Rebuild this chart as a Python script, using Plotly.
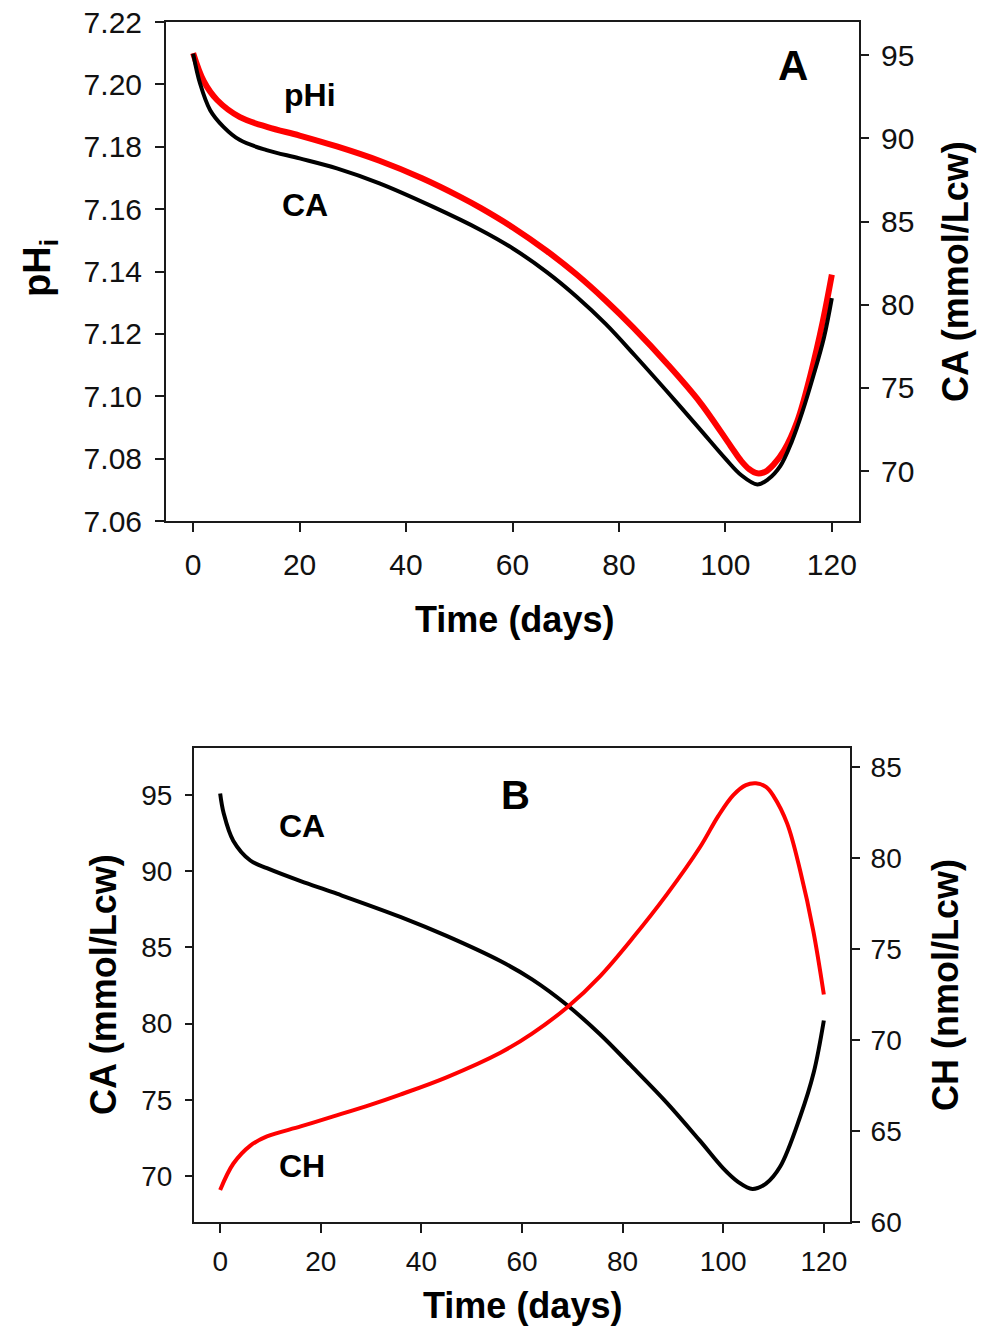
import plotly.graph_objects as go

# ---------------- Data ----------------
# Panel A: intracellular pH (left axis) and CA (right axis)
tA_phi = [0, 2, 4.5, 8.8, 14, 20, 27, 35, 43, 50, 54, 60, 66.5, 72, 77.5, 82.7,
          89, 95.3, 101, 103, 104.5, 106, 107.5, 109, 111, 113.5, 116, 118.3, 120]
phi_A = [7.210, 7.201, 7.195, 7.1895, 7.1863, 7.1836, 7.1801, 7.1755, 7.1699,
         7.1641, 7.1604, 7.1542, 7.1465, 7.1391, 7.1307, 7.1220, 7.1105, 7.0979,
         7.0840, 7.0792, 7.0766, 7.0753, 7.0758, 7.0780, 7.0826, 7.092, 7.107,
         7.124, 7.139]

tA_ca = [0, 1.3, 3.2, 5.7, 8.8, 13.8, 20, 27, 35, 45, 54, 60, 66.5, 72, 77.5,
         83, 89, 95, 100, 103, 106, 108, 110.3, 112.5, 114.5, 116.5, 118.5, 120]
ca_A = [95.1, 93.3, 91.7, 90.7, 89.9, 89.3, 88.8, 88.2, 87.3, 85.9, 84.5, 83.4,
        81.95, 80.5, 78.85, 76.95, 74.8, 72.6, 70.75, 69.75, 69.2, 69.5, 70.3,
        71.8, 73.6, 75.7, 78.0, 80.4]

# Panel B: CA (left axis) and CH (right axis)
tB_ca = [0, 0.7, 2.6, 6, 9.3, 16, 22.5, 35.8, 45, 55.7, 62, 69, 75.5, 81.5,
         88.8, 95.4, 100, 103, 105.8, 108.5, 111.3, 115.3, 118, 120]
ca_B = [95.1, 93.8, 92.0, 90.7, 90.2, 89.35, 88.6, 87.0, 85.75, 84.1, 82.9,
        81.2, 79.3, 77.3, 74.8, 72.3, 70.5, 69.6, 69.15, 69.5, 70.6, 73.9, 76.8,
        80.2]

tB_ch = [0, 2.6, 6, 9.3, 16, 22.5, 30, 35.8, 45, 55.7, 62, 69, 75.5, 82, 88.8,
         95.4, 99, 102, 104.5, 106.5, 108.5, 110, 112.7, 115.3, 117.9, 120]
ch_B = [61.76, 63.2, 64.2, 64.7, 65.25, 65.8, 66.45, 67.0, 67.95, 69.3, 70.35,
        71.8, 73.5, 75.6, 78.0, 80.6, 82.3, 83.45, 84.0, 84.1, 83.9, 83.4, 81.9,
        79.3, 76.0, 72.5]

x_ticks = [0, 20, 40, 60, 80, 100, 120]
phi_ticks = [7.06, 7.08, 7.10, 7.12, 7.14, 7.16, 7.18, 7.20, 7.22]
caA_ticks = [70, 75, 80, 85, 90, 95]
caB_ticks = [70, 75, 80, 85, 90, 95]
chB_ticks = [60, 65, 70, 75, 80, 85]

# ---------------- Layout helpers ----------------
W, H = 987, 1329
FONT = "Liberation Sans, Arial, Helvetica, sans-serif"
AXC = "#1a1a1a"


def px(xp):
    return xp / W


def py(yp):
    return 1 - yp / H


fig = go.Figure()

RED = "#ff0000"
BLACK = "#000000"

fig.add_trace(go.Scatter(x=tA_phi, y=phi_A, mode="lines", name="pHi",
                         line=dict(color=RED, width=6, shape="spline", smoothing=1),
                         xaxis="x", yaxis="y"))
fig.add_trace(go.Scatter(x=tA_ca, y=ca_A, mode="lines", name="CA",
                         line=dict(color=BLACK, width=4, shape="spline", smoothing=1),
                         xaxis="x", yaxis="y2"))
fig.add_trace(go.Scatter(x=tB_ca, y=ca_B, mode="lines", name="CA",
                         line=dict(color=BLACK, width=4, shape="spline", smoothing=1),
                         xaxis="x2", yaxis="y3"))
fig.add_trace(go.Scatter(x=tB_ch, y=ch_B, mode="lines", name="CH",
                         line=dict(color=RED, width=4, shape="spline", smoothing=1),
                         xaxis="x2", yaxis="y4"))

common = dict(showline=True, linecolor=AXC, linewidth=2, ticks="outside",
              tickcolor=AXC, tickwidth=2, showgrid=False, zeroline=False,
              automargin=False)

tickA = dict(family=FONT, size=30, color="#111111")
tickB = dict(family=FONT, size=28, color="#111111")

fig.update_layout(
    width=W, height=H, margin=dict(l=0, r=0, t=0, b=0, pad=0),
    paper_bgcolor="white", plot_bgcolor="white", showlegend=False,
    xaxis=dict(domain=[px(166), px(859)], range=[-5.1, 125.1], anchor="y",
               tickvals=x_ticks, ticklen=9, tickfont=tickA, mirror=True,
               ticklabelstandoff=7, **common),
    yaxis=dict(domain=[py(521), py(22)], range=[7.06, 7.22], anchor="x",
               tickvals=phi_ticks, ticktext=[f"{v:.2f}" for v in phi_ticks],
               ticklen=9, tickfont=tickA, ticklabelstandoff=7, **common),
    yaxis2=dict(range=[67.0, 97.0], overlaying="y", side="right", anchor="x",
                tickvals=caA_ticks, ticklen=8, tickfont=tickA,
                ticklabelstandoff=6, **common),
    xaxis2=dict(domain=[px(194), px(850)], range=[-5.2, 125.2], anchor="y3",
                tickvals=x_ticks, ticklen=9, tickfont=tickB, mirror=True,
                ticklabelstandoff=4, **common),
    yaxis3=dict(domain=[py(1222), py(748)], range=[66.98, 98.08], anchor="x2",
                tickvals=caB_ticks, ticklen=7, tickfont=tickB,
                ticklabelstandoff=7, **common),
    yaxis4=dict(range=[60, 86.04], overlaying="y3", side="right", anchor="x2",
                tickvals=chB_ticks, ticklen=8, tickfont=tickB,
                ticklabelstandoff=5, **common),
)


def label(text, x, y, size, angle=0):
    fig.add_annotation(text=text, x=px(x), y=py(y), xref="paper", yref="paper",
                       showarrow=False, textangle=angle, xanchor="center",
                       yanchor="middle",
                       font=dict(family=FONT, size=size, color="#000000"))


# axis titles
label("<b>pH<sub>i</sub></b>", 40, 268, 38, -90)
label("<b>CA (mmol/Lcw)</b>", 955, 272, 36, -90)
label("<b>Time (days)</b>", 514, 620, 36)
label("<b>CA (mmol/Lcw)</b>", 103, 985, 36, -90)
label("<b>CH (nmol/Lcw)</b>", 945, 985, 36, -90)
label("<b>Time (days)</b>", 522, 1305, 36)

# in-plot labels
label("<b>pHi</b>", 310, 95, 32)
label("<b>CA</b>", 305, 205, 32)
label("<b>A</b>", 793, 65, 42)
label("<b>B</b>", 515, 795, 40)
label("<b>CA</b>", 302, 826, 32)
label("<b>CH</b>", 302, 1166, 32)

fig.write_html("out.html",
               config={"displayModeBar": False},
               post_script="document.body.style.margin='0';"
                           "document.body.style.overflow='hidden';")
